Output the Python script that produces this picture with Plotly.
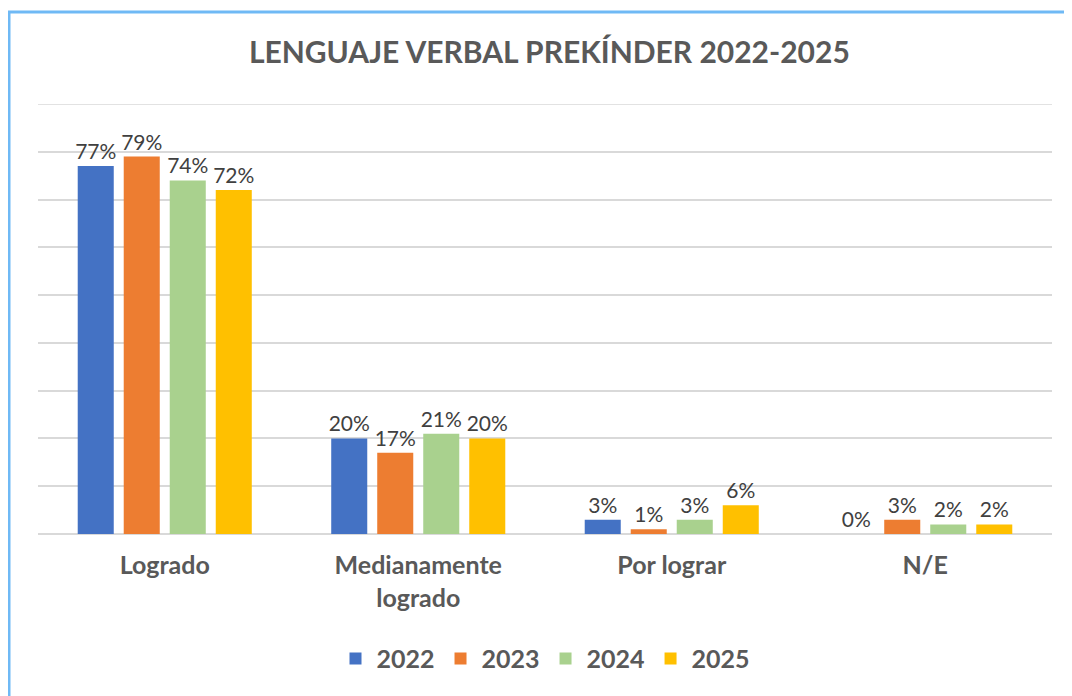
import plotly.graph_objects as go

categories = ["Logrado", "Medianamente<br>logrado", "Por lograr", "N/E"]
years = ["2022", "2023", "2024", "2025"]
values_2022 = [0.77, 0.20, 0.03, 0.00]
values_2023 = [0.79, 0.17, 0.01, 0.03]
values_2024 = [0.74, 0.21, 0.03, 0.02]
values_2025 = [0.72, 0.20, 0.06, 0.02]
colors = ["#4472C4", "#ED7D31", "#A9D18E", "#FFC000"]

series = [values_2022, values_2023, values_2024, values_2025]
FONT = "Lato, Open Sans, sans-serif"

fig = go.Figure()
for name, vals, col in zip(years, series, colors):
    fig.add_trace(go.Bar(
        x=categories, y=vals, name=name,
        marker=dict(color=col, line=dict(width=0)),
        text=[f"{round(v*100)}%" for v in vals],
        textposition="outside", cliponaxis=False, constraintext="none",
        textfont=dict(family=FONT, size=21, color="#404040"),
    ))

fig.update_layout(
    width=1072, height=696,
    barmode="group", bargap=0.274, bargroupgap=0.217,
    paper_bgcolor="white", plot_bgcolor="white",
    margin=dict(l=30, r=28, t=96, b=170),
    title=dict(text="<b>LENGUAJE VERBAL PREKÍNDER 2022-2025</b>",
               x=0.505, xanchor="center", y=0.936, yanchor="middle",
               font=dict(family=FONT, size=30, color="#595959")),
    yaxis=dict(range=[0, 0.9], dtick=0.1, showticklabels=False,
               showgrid=True, gridcolor="#D9D9D9", gridwidth=1.5,
               zeroline=True, zerolinecolor="#D9D9D9", zerolinewidth=1.5,
               fixedrange=True),
    xaxis=dict(showline=False, ticks="",
               tickfont=dict(family=FONT, size=25, color="#595959", weight="bold"),
               ticklabelstandoff=14),
    legend=dict(orientation="h", x=0.5, xanchor="center", y=-0.29, yanchor="middle",
                font=dict(family=FONT, size=25, color="#595959", weight="bold"),
                itemwidth=32, traceorder="normal"),
    shapes=[
        dict(type="line", xref="paper", yref="y", x0=0, x1=1, y0=0.9, y1=0.9,
             line=dict(color="#D9D9D9", width=1.5), layer="below"),
        dict(type="rect", xref="paper", yref="paper",
             x0=-0.0286, x1=1.05, y0=-0.5, y1=1.214,
             line=dict(color="#6FB9F5", width=3), fillcolor="rgba(0,0,0,0)", layer="below"),
    ],
)

fig.write_html("out.html")
